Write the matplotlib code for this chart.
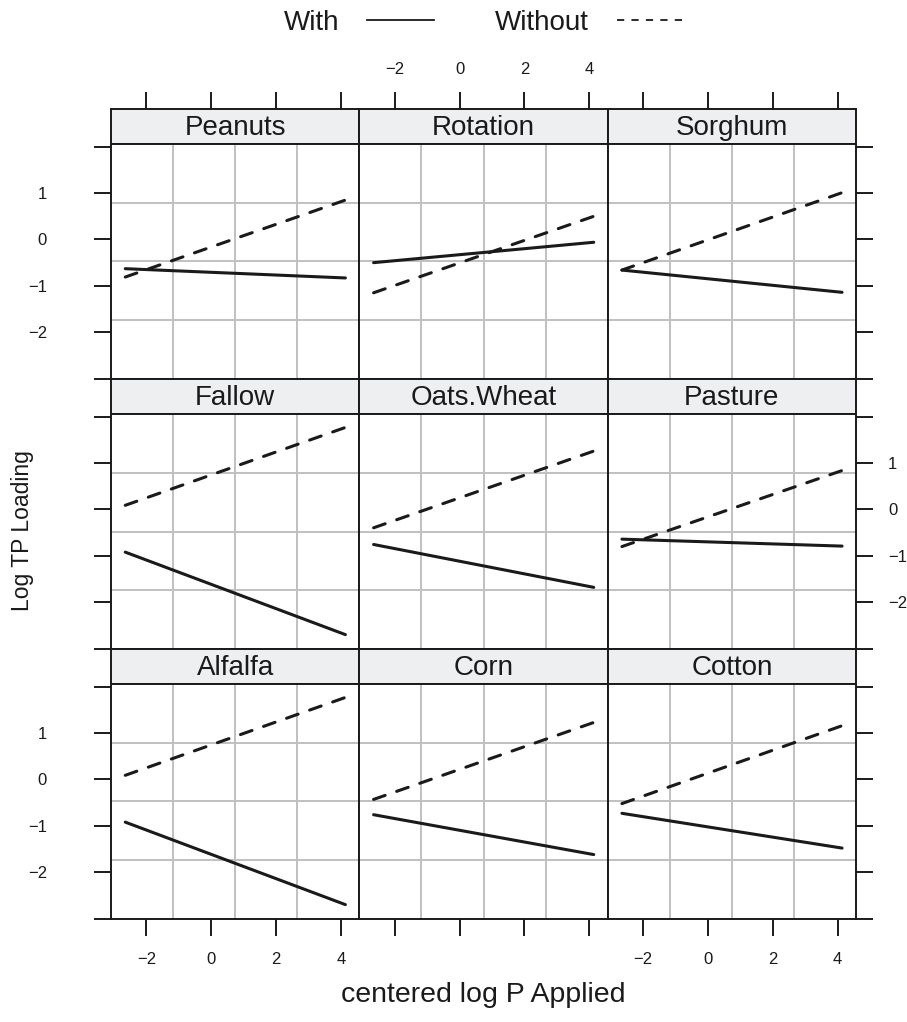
import numpy as np
import matplotlib
matplotlib.use("Agg")
import matplotlib.pyplot as plt
from matplotlib.lines import Line2D
from matplotlib.ticker import FuncFormatter

plt.rcParams['font.family'] = ['Liberation Sans', 'DejaVu Sans']

# fitted lines per crop: value at the low and high end of centered log P
crops = ['Peanuts', 'Rotation', 'Sorghum',
         'Fallow', 'Oats.Wheat', 'Pasture',
         'Alfalfa', 'Corn', 'Cotton']
x_range = [-2.65, 4.14]
with_start = [-0.63, -0.50, -0.66, -0.92, -0.755, -0.64, -0.92, -0.76, -0.73]
with_end = [-0.83, -0.06, -1.14, -2.70, -1.68, -0.79, -2.70, -1.62, -1.48]
without_start = [-0.81, -1.15, -0.66, 0.09, -0.395, -0.80, 0.09, -0.43, -0.52]
without_end = [0.85, 0.50, 1.01, 1.77, 1.26, 0.84, 1.77, 1.23, 1.16]

x_ticks = [-2, 0, 2, 4]
y_ticks = [-3, -2, -1, 0, 1, 2]
y_labeled = [-2, -1, 0, 1]

XLIM = (-3.09, 4.57)
YLIM = (-3.01, 2.06)

INK = '#1a1a1a'
GRID = '#c0c0c0'
STRIP = '#eeeff0'

W, H = 907, 1022
fig = plt.figure(figsize=(W / 100, H / 100), dpi=100)


def frac(x0, y0, w, h):
    return [x0 / W, 1 - (y0 + h) / H, w / W, h / H]


def minus(v, pos):
    return f"{v:g}".replace('-', '\u2212')


def y_fmt(v, pos):
    return minus(v, pos) if round(v) in y_labeled else ''


left, right, top = 111, 856, 109
colw = (right - left) / 3
rowh, striph = 270, 35

tick_kw = dict(direction='out', length=12, width=1.4, color=INK,
               labelsize=12, labelcolor=INK)

for i, crop in enumerate(crops):
    r, c = divmod(i, 3)
    x0 = left + c * colw
    y0 = top + r * rowh

    sax = fig.add_axes(frac(x0, y0, colw, striph))
    ax = fig.add_axes(frac(x0, y0 + striph, colw, rowh - striph))

    # strip
    sax.set_facecolor(STRIP)
    sax.set_xlim(XLIM)
    sax.set_yticks([])
    sax.text(0.5, 0.45, crop, transform=sax.transAxes, ha='center',
             va='center', fontsize=20, color=INK)
    for sp in sax.spines.values():
        sp.set_linewidth(1.4)
        sp.set_color(INK)
    if r == 0:
        sax.xaxis.tick_top()
        sax.set_xticks(x_ticks)
        sax.tick_params(axis='x', pad=11, **tick_kw)
        if c == 1:
            sax.xaxis.set_major_formatter(FuncFormatter(minus))
        else:
            sax.set_xticklabels([])
    else:
        sax.set_xticks([])

    # panel
    ax.set_xlim(XLIM)
    ax.set_ylim(YLIM)
    for gx in np.linspace(*XLIM, 5)[1:-1]:
        ax.axvline(gx, color=GRID, lw=1.4, zorder=1)
    for gy in np.linspace(*YLIM, 5)[1:-1]:
        ax.axhline(gy, color=GRID, lw=1.4, zorder=1)

    ax.plot(x_range, [with_start[i], with_end[i]], color=INK, lw=2.2,
            solid_capstyle='round', zorder=3)
    ax.plot(x_range, [without_start[i], without_end[i]], color=INK, lw=2.2,
            dashes=(4, 4), dash_capstyle='round', zorder=3)

    for sp in ax.spines.values():
        sp.set_linewidth(1.4)
        sp.set_color(INK)
        sp.set_zorder(4)

    # x axis on the bottom row only
    if r == 2:
        ax.set_xticks(x_ticks)
        ax.tick_params(axis='x', pad=12, **tick_kw)
        if c == 1:
            ax.set_xticklabels([])
        else:
            ax.xaxis.set_major_formatter(FuncFormatter(minus))
    else:
        ax.set_xticks([])

    # y axis alternates between left and right sides
    ax.set_yticks(y_ticks)
    if c == 0:
        ax.tick_params(axis='y', pad=34, **tick_kw)
        if r == 1:
            ax.set_yticklabels([])
        else:
            ax.yaxis.set_major_formatter(FuncFormatter(y_fmt))
    elif c == 2:
        ax.yaxis.tick_right()
        ax.tick_params(axis='y', pad=11, **tick_kw)
        if r == 1:
            ax.yaxis.set_major_formatter(FuncFormatter(y_fmt))
        else:
            ax.set_yticklabels([])
    else:
        ax.set_yticks([])

# key at the top
handles = [Line2D([], [], color=INK, lw=1.3),
           Line2D([], [], color=INK, lw=1.3, dashes=(4, 4))]
fig.legend(handles, ['With', 'Without'], loc='center',
           bbox_to_anchor=((left + right) / 2 / W, 1 - 23 / H), ncol=2,
           frameon=False, markerfirst=False, fontsize=20,
           handlelength=2.4, handletextpad=1.0, columnspacing=2.2,
           labelcolor=INK)

fig.text((left + right) / 2 / W, 1 - 995 / H, 'centered log P Applied',
         ha='center', va='center', fontsize=20.5, color=INK)
fig.text(23 / W, 1 - 531 / H, 'Log TP Loading', rotation=90,
         ha='center', va='center', fontsize=16.5, color=INK)

fig.savefig('out.png', dpi=100, facecolor='white')
